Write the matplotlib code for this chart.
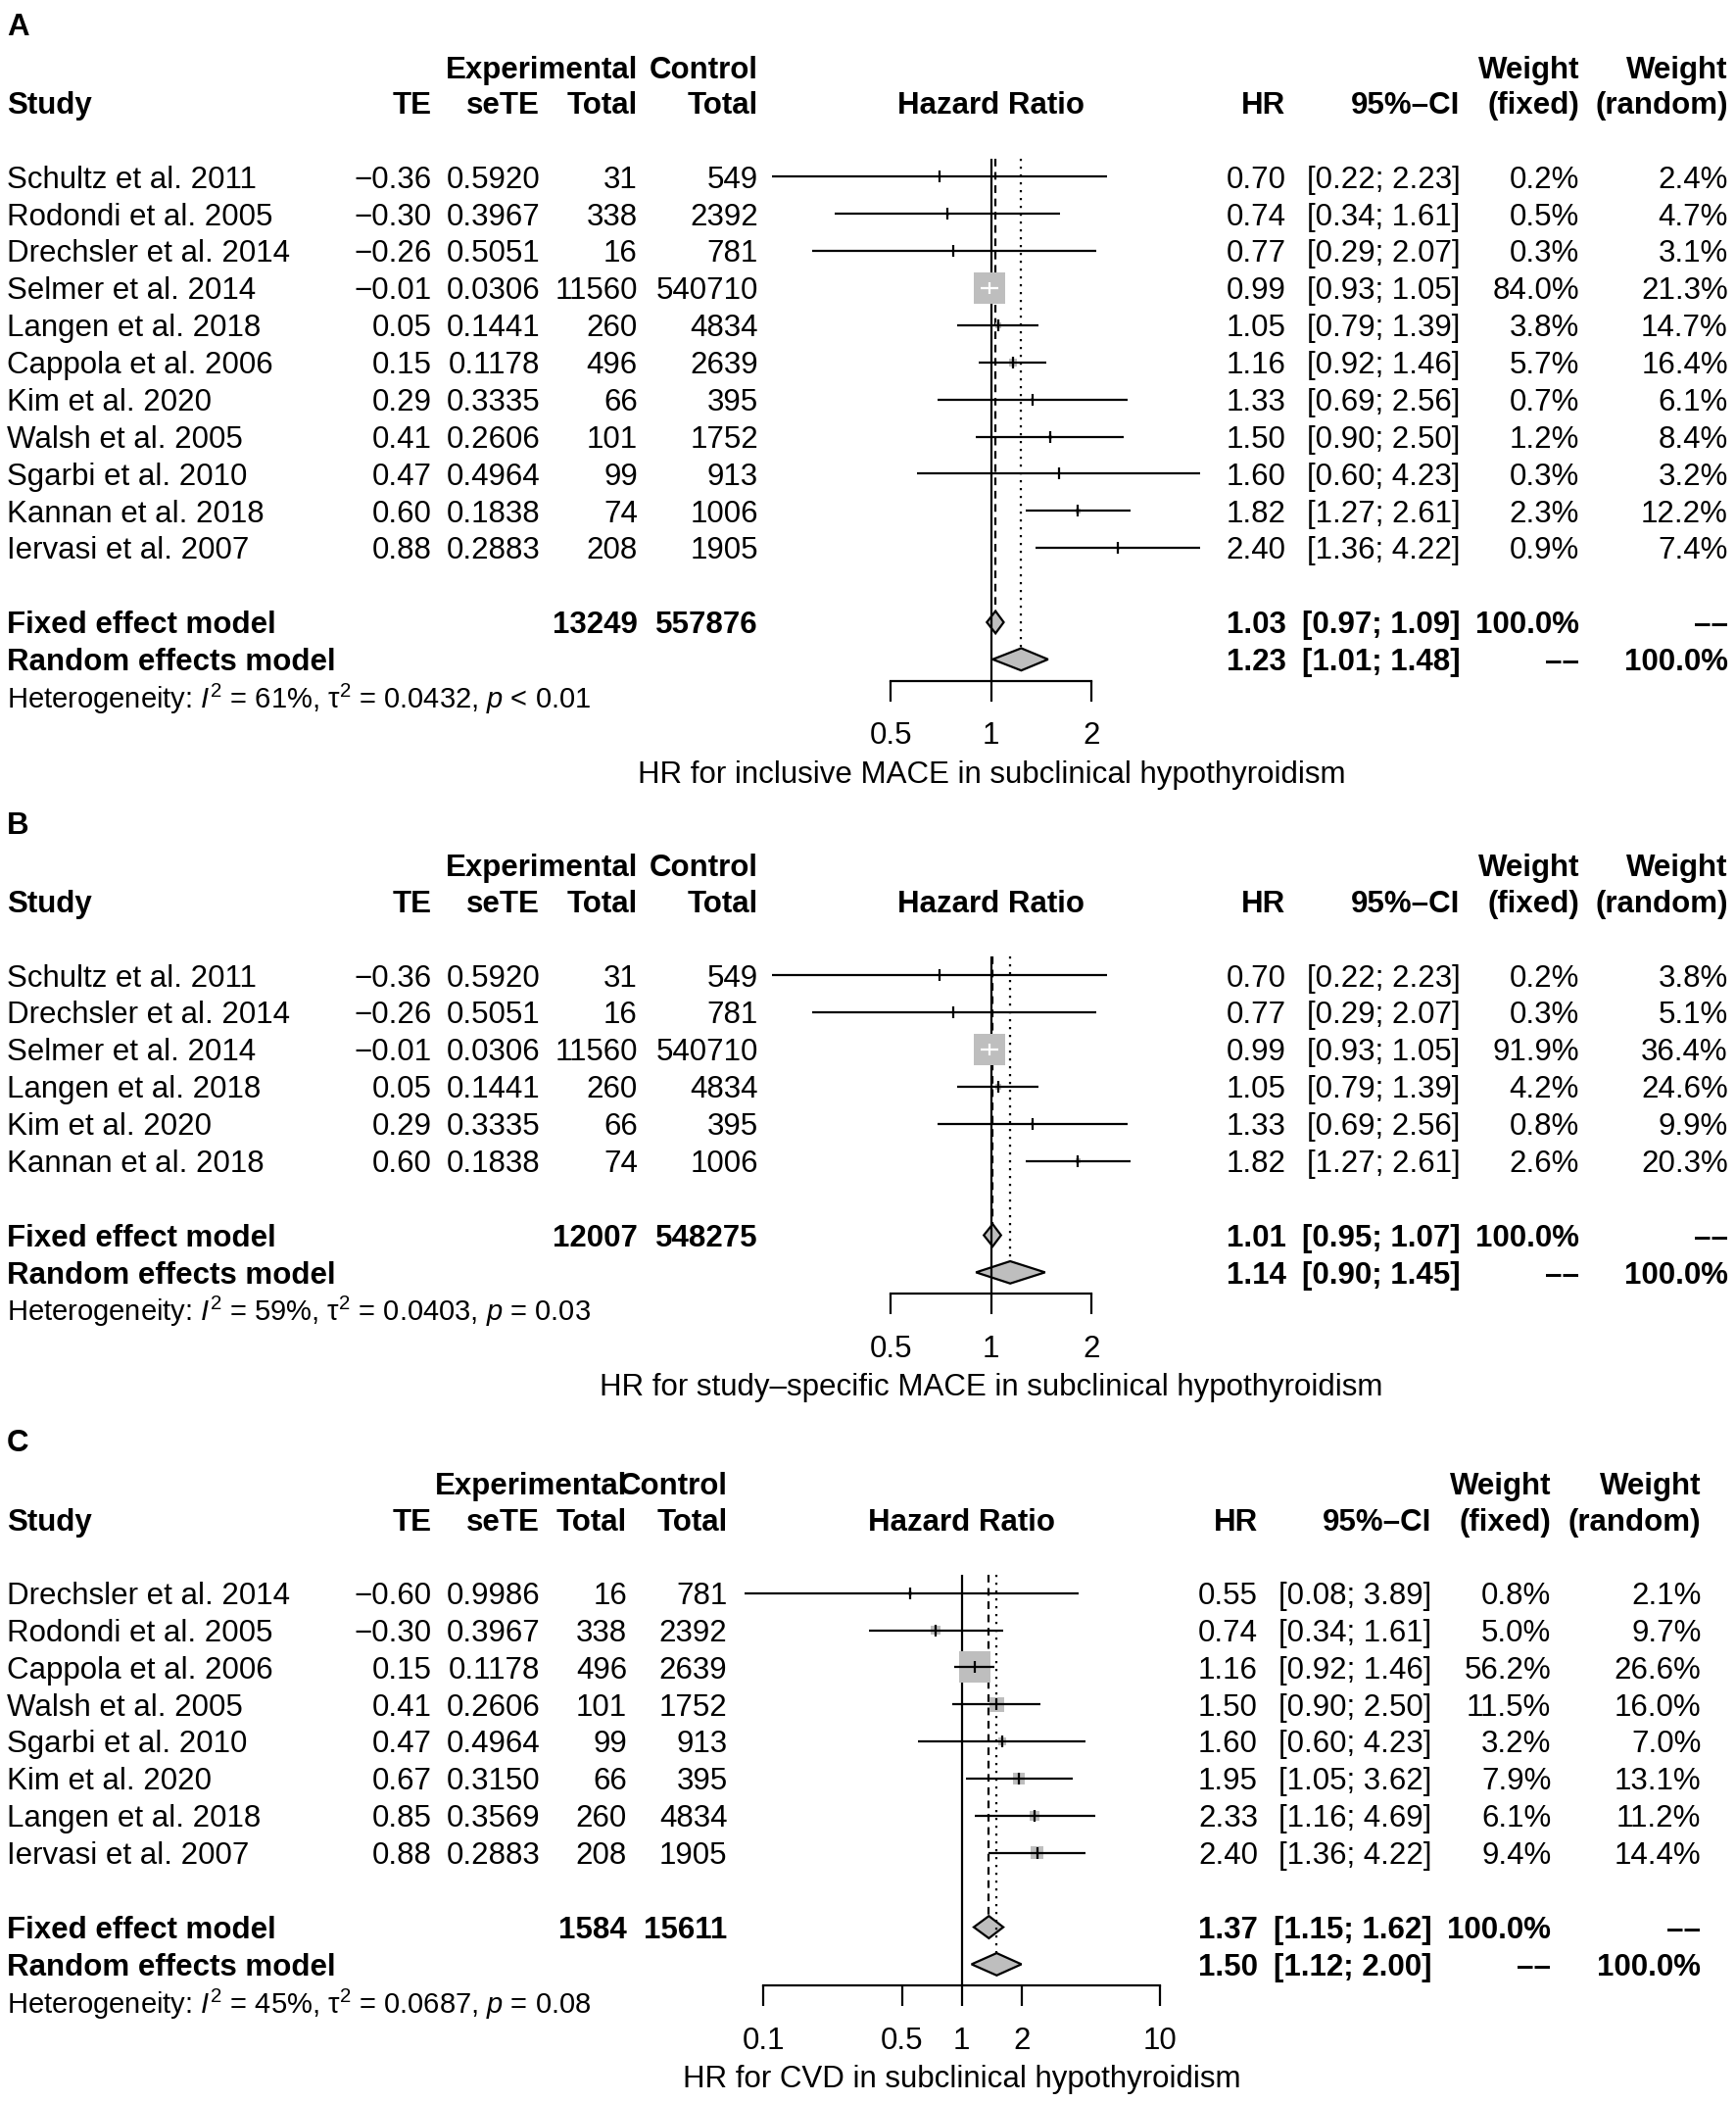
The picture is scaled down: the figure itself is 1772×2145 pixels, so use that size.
import matplotlib
matplotlib.use("Agg")
import matplotlib.pyplot as plt
import numpy as np
from matplotlib.patches import Polygon
from matplotlib.ticker import FixedLocator, FixedFormatter, NullLocator

plt.rcParams['font.family'] = ['Liberation Sans', 'DejaVu Sans']
plt.rcParams['mathtext.fontset'] = 'custom'
plt.rcParams['mathtext.rm'] = 'Liberation Sans'
plt.rcParams['mathtext.it'] = 'Liberation Sans:italic'
plt.rcParams['mathtext.bf'] = 'Liberation Sans:bold'

# ---------------- Data ----------------
# Panel A
a_study = ["Schultz et al. 2011", "Rodondi et al. 2005", "Drechsler et al. 2014", "Selmer et al. 2014",
           "Langen et al. 2018", "Cappola et al. 2006", "Kim et al. 2020", "Walsh et al. 2005",
           "Sgarbi et al. 2010", "Kannan et al. 2018", "Iervasi et al. 2007"]
a_te = [-0.36, -0.30, -0.26, -0.01, 0.05, 0.15, 0.29, 0.41, 0.47, 0.60, 0.88]
a_sete = [0.5920, 0.3967, 0.5051, 0.0306, 0.1441, 0.1178, 0.3335, 0.2606, 0.4964, 0.1838, 0.2883]
a_exp = [31, 338, 16, 11560, 260, 496, 66, 101, 99, 74, 208]
a_ctrl = [549, 2392, 781, 540710, 4834, 2639, 395, 1752, 913, 1006, 1905]
a_hr = [0.70, 0.74, 0.77, 0.99, 1.05, 1.16, 1.33, 1.50, 1.60, 1.82, 2.40]
a_lo = [0.22, 0.34, 0.29, 0.93, 0.79, 0.92, 0.69, 0.90, 0.60, 1.27, 1.36]
a_hi = [2.23, 1.61, 2.07, 1.05, 1.39, 1.46, 2.56, 2.50, 4.23, 2.61, 4.22]
a_wf = [0.2, 0.5, 0.3, 84.0, 3.8, 5.7, 0.7, 1.2, 0.3, 2.3, 0.9]
a_wr = [2.4, 4.7, 3.1, 21.3, 14.7, 16.4, 6.1, 8.4, 3.2, 12.2, 7.4]
a_tot = [13249, 557876]
a_fixed = [1.03, 0.97, 1.09]
a_random = [1.23, 1.01, 1.48]
a_het = ["61%", "0.0432", "< 0.01"]
a_xlabel = "HR for inclusive MACE in subclinical hypothyroidism"

# Panel B
b_study = ["Schultz et al. 2011", "Drechsler et al. 2014", "Selmer et al. 2014", "Langen et al. 2018",
           "Kim et al. 2020", "Kannan et al. 2018"]
b_te = [-0.36, -0.26, -0.01, 0.05, 0.29, 0.60]
b_sete = [0.5920, 0.5051, 0.0306, 0.1441, 0.3335, 0.1838]
b_exp = [31, 16, 11560, 260, 66, 74]
b_ctrl = [549, 781, 540710, 4834, 395, 1006]
b_hr = [0.70, 0.77, 0.99, 1.05, 1.33, 1.82]
b_lo = [0.22, 0.29, 0.93, 0.79, 0.69, 1.27]
b_hi = [2.23, 2.07, 1.05, 1.39, 2.56, 2.61]
b_wf = [0.2, 0.3, 91.9, 4.2, 0.8, 2.6]
b_wr = [3.8, 5.1, 36.4, 24.6, 9.9, 20.3]
b_tot = [12007, 548275]
b_fixed = [1.01, 0.95, 1.07]
b_random = [1.14, 0.90, 1.45]
b_het = ["59%", "0.0403", "= 0.03"]
b_xlabel = "HR for study\u2013specific MACE in subclinical hypothyroidism"

# Panel C
c_study = ["Drechsler et al. 2014", "Rodondi et al. 2005", "Cappola et al. 2006", "Walsh et al. 2005",
           "Sgarbi et al. 2010", "Kim et al. 2020", "Langen et al. 2018", "Iervasi et al. 2007"]
c_te = [-0.60, -0.30, 0.15, 0.41, 0.47, 0.67, 0.85, 0.88]
c_sete = [0.9986, 0.3967, 0.1178, 0.2606, 0.4964, 0.3150, 0.3569, 0.2883]
c_exp = [16, 338, 496, 101, 99, 66, 260, 208]
c_ctrl = [781, 2392, 2639, 1752, 913, 395, 4834, 1905]
c_hr = [0.55, 0.74, 1.16, 1.50, 1.60, 1.95, 2.33, 2.40]
c_lo = [0.08, 0.34, 0.92, 0.90, 0.60, 1.05, 1.16, 1.36]
c_hi = [3.89, 1.61, 1.46, 2.50, 4.23, 3.62, 4.69, 4.22]
c_wf = [0.8, 5.0, 56.2, 11.5, 3.2, 7.9, 6.1, 9.4]
c_wr = [2.1, 9.7, 26.6, 16.0, 7.0, 13.1, 11.2, 14.4]
c_tot = [1584, 15611]
c_fixed = [1.37, 1.15, 1.62]
c_random = [1.50, 1.12, 2.00]
c_het = ["45%", "0.0687", "= 0.08"]
c_xlabel = "HR for CVD in subclinical hypothyroidism"

ab_ticks = [0.5, 1, 2]
ab_ticklabels = ["0.5", "1", "2"]
c_ticks = [0.1, 0.5, 1, 2, 10]
c_ticklabels = ["0.1", "0.5", "1", "2", "10"]

# ---------------- Layout ----------------
W, H = 1772, 2145
WD = 1296.0
S = W / WD
HD = H / S
fig = plt.figure(figsize=(W / 100, H / 100), dpi=100)
bg = fig.add_axes([0, 0, 1, 1])
bg.set_xlim(0, WD)
bg.set_ylim(HD, 0)
bg.axis('off')

FS = 22.5
FS_HET = 21
RS = 27.7
LW = 1.6
GRAY = '#BEBEBE'
BOX_PX = 32.0  # max box side in output pixels
DH = 0.3
AXOFF = 16.0
DASH2 = "\u2013\u2013"


def cap(fs):
    return 0.716 * fs * 100 / 72 / S


def txt(x, y, s, ha='right', bold=False, fs=FS):
    bg.text(x, y + cap(fs) / 2, s, ha=ha, va='baseline', fontsize=fs,
            fontweight='bold' if bold else 'normal', color='black')


def fmt_te(v):
    return f"{v:.2f}".replace('-', '\u2212')


def panel(letter, y0, cols, xc, D, xlim, ticks, ticklabels,
          study, te, sete, exp, ctrl, hr, lo, hi, wf, wr, tot, fixed, random, het, xlabel):
    n = len(study)
    txt(5, y0 - 114, letter, ha='left', bold=True)
    # headers
    txt(cols['exp'], y0 - 82, "Experimental", bold=True)
    txt(cols['ctrl'], y0 - 82, "Control", bold=True)
    txt(cols['wf'], y0 - 82, "Weight", bold=True)
    txt(cols['wr'], y0 - 82, "Weight", bold=True)
    hy = y0 - 55
    txt(5, hy, "Study", ha='left', bold=True)
    txt(cols['te'], hy, "TE", bold=True)
    txt(cols['sete'], hy, "seTE", bold=True)
    txt(cols['exp'], hy, "Total", bold=True)
    txt(cols['ctrl'], hy, "Total", bold=True)
    txt(xc, hy, "Hazard Ratio", ha='center', bold=True)
    txt(cols['hr'], hy, "HR", bold=True)
    txt(cols['ci'], hy, "95%\u2013CI", bold=True)
    txt(cols['wf'], hy, "(fixed)", bold=True)
    txt(cols['wr'], hy, "(random)", bold=True)
    for i in range(n):
        y = y0 + i * RS
        txt(5, y, study[i], ha='left')
        txt(cols['te'], y, fmt_te(te[i]))
        txt(cols['sete'], y, f"{sete[i]:.4f}")
        txt(cols['exp'], y, str(exp[i]))
        txt(cols['ctrl'], y, str(ctrl[i]))
        txt(cols['hr'], y, f"{hr[i]:.2f}")
        txt(cols['ci'], y, f"[{lo[i]:.2f}; {hi[i]:.2f}]")
        txt(cols['wf'], y, f"{wf[i]:.1f}%")
        txt(cols['wr'], y, f"{wr[i]:.1f}%")
    yf_d = y0 + (n + 1) * RS
    yr_d = y0 + (n + 2) * RS
    txt(5, yf_d, "Fixed effect model", ha='left', bold=True)
    txt(cols['exp'], yf_d, str(tot[0]), bold=True)
    txt(cols['ctrl'], yf_d, str(tot[1]), bold=True)
    txt(cols['hr'], yf_d, f"{fixed[0]:.2f}", bold=True)
    txt(cols['ci'], yf_d, f"[{fixed[1]:.2f}; {fixed[2]:.2f}]", bold=True)
    txt(cols['wf'], yf_d, "100.0%", bold=True)
    txt(cols['wr'], yf_d, DASH2, bold=True)
    txt(5, yr_d, "Random effects model", ha='left', bold=True)
    txt(cols['hr'], yr_d, f"{random[0]:.2f}", bold=True)
    txt(cols['ci'], yr_d, f"[{random[1]:.2f}; {random[2]:.2f}]", bold=True)
    txt(cols['wf'], yr_d, DASH2, bold=True)
    txt(cols['wr'], yr_d, "100.0%", bold=True)
    het_s = (r"Heterogeneity: $I^2$ = " + het[0] + ", \u03c4$^2$ = " + het[1]
             + r", $p$ " + het[2])
    txt(5, yr_d + 29, het_s, ha='left', fs=FS_HET)
    txt(xc, yr_d + 84, xlabel, ha='center')

    # forest axes
    top = y0 - 0.5 * RS
    bottom = yr_d + AXOFF
    left = xc + D * np.log10(xlim[0])
    right = xc + D * np.log10(xlim[1])
    ax = fig.add_axes([left / WD, 1 - bottom / HD, (right - left) / WD, (bottom - top) / HD])
    ax.set_xscale('log')
    ax.set_xlim(*xlim)
    ybot = n + 2 + AXOFF / RS
    ax.set_ylim(ybot, -0.5)
    ax.patch.set_alpha(0)
    for sp in ['top', 'left', 'right']:
        ax.spines[sp].set_visible(False)
    ax.spines['bottom'].set_bounds(ticks[0], ticks[-1])
    ax.spines['bottom'].set_linewidth(LW)
    ax.xaxis.set_major_locator(FixedLocator(ticks))
    ax.xaxis.set_major_formatter(FixedFormatter(ticklabels))
    ax.xaxis.set_minor_locator(NullLocator())
    ax.tick_params(axis='x', direction='out', length=15, width=LW, pad=15, labelsize=FS)
    ax.set_yticks([])

    yy = np.arange(n)
    yf = n + 1
    yr = n + 2
    ax.vlines(1, -0.5, ybot, color='black', lw=LW, zorder=2, clip_on=False)
    ax.vlines(fixed[0], -0.5, yf - DH, color='black', lw=LW, linestyles=(0, (3.5, 2.6)), zorder=2)
    ax.vlines(random[0], -0.5, yr - DH, color='black', lw=LW, linestyles=(0, (1, 2.6)), zorder=2)

    wf_a = np.array(wf)
    side_px = BOX_PX * np.sqrt(wf_a / wf_a.max())
    side_pt = side_px * 72 / 100
    ax.scatter(hr, yy, s=side_pt ** 2, marker='s', color=GRAY, linewidths=0, zorder=3)
    dec_px = D * S  # pixels per decade
    for i in range(n):
        half = side_px[i] / 2 / dec_px
        inside = (np.log10(hi[i] / hr[i]) < half) and (np.log10(hr[i] / lo[i]) < half)
        c = 'white' if inside else 'black'
        ax.hlines(yy[i], lo[i], hi[i], color=c, lw=LW, zorder=4)
        ax.plot([hr[i]], [yy[i]], marker='|', markersize=8, mew=LW, color=c, zorder=4)

    for est, l, h, y in [(fixed[0], fixed[1], fixed[2], yf), (random[0], random[1], random[2], yr)]:
        poly = Polygon([(l, y), (est, y - DH), (h, y), (est, y + DH)], closed=True,
                       facecolor=GRAY, edgecolor='black', lw=LW, zorder=1)
        ax.add_patch(poly)


cols_ab = dict(te=322, sete=403, exp=476, ctrl=566, hr=960, ci=1090, wf=1179, wr=1290)
cols_c = dict(te=322, sete=403, exp=468, ctrl=543, hr=939, ci=1069, wf=1158, wr=1270)

panel("A", 132, cols_ab, 740, 249, (0.2, 5), ab_ticks, ab_ticklabels,
      a_study, a_te, a_sete, a_exp, a_ctrl, a_hr, a_lo, a_hi, a_wf, a_wr, a_tot, a_fixed, a_random,
      a_het, a_xlabel)
panel("B", 728, cols_ab, 740, 249, (0.2, 5), ab_ticks, ab_ticklabels,
      b_study, b_te, b_sete, b_exp, b_ctrl, b_hr, b_lo, b_hi, b_wf, b_wr, b_tot, b_fixed, b_random,
      b_het, b_xlabel)
panel("C", 1189, cols_c, 718, 148, (0.05, 15), c_ticks, c_ticklabels,
      c_study, c_te, c_sete, c_exp, c_ctrl, c_hr, c_lo, c_hi, c_wf, c_wr, c_tot, c_fixed, c_random,
      c_het, c_xlabel)

fig.savefig("out.png", dpi=100)
